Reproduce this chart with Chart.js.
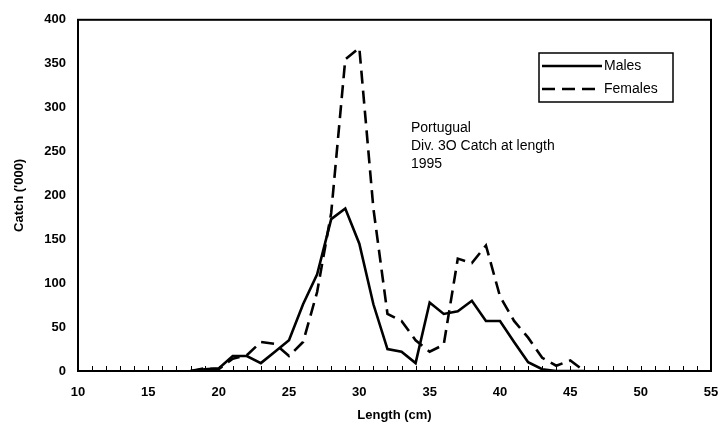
<!DOCTYPE html>
<html>
<head>
<meta charset="utf-8">
<script src="https://cdn.jsdelivr.net/npm/chart.js@4"></script>
<style>
  body { margin: 0; background: #fff; }
  #wrap { width: 722px; height: 438px; }
</style>
</head>
<body>
<div id="wrap"><canvas id="chart" width="722" height="438"></canvas></div>
<script>
// ====================== DATA ======================
const lengths = [18, 19, 20, 21, 22, 23, 24, 25, 26, 27, 28, 29, 30, 31, 32,
  33, 34, 35, 36, 37, 38, 39, 40, 41, 42, 43, 44, 45, 46];
const males = [0, 2, 3, 17, 17, 9, 22, 35, 76, 110, 173, 185, 145, 76, 25,
  22, 9, 78, 65, 68, 80, 57, 57, 33, 10, 2, 0, 0, 0];
const females = [0, 3, 2, 14, 18, 33, 31, 17, 33, 90, 180, 355, 368, 185, 65,
  57, 35, 22, 30, 128, 123, 143, 85, 57, 38, 15, 6, 12, 0];
const xTicks = [10, 15, 20, 25, 30, 35, 40, 45, 50, 55];
const yTicks = [0, 50, 100, 150, 200, 250, 300, 350, 400];
const noteLines = ['Portugual', 'Div. 3O Catch at length', '1995'];

const FONT = "'Liberation Sans', Arial, sans-serif";

function toPoints(vals) {
  return lengths.map((x, i) => ({ x: x, y: vals[i] }));
}

// ====================== EXTRAS ======================
// frame, minor ticks, legend box and the note
const extras = {
  id: 'extras',
  afterDraw(chart) {
    const { ctx, chartArea: a, scales } = chart;
    ctx.save();
    ctx.strokeStyle = '#000';

    // minor ticks every cm, pointing up from the axis
    ctx.lineWidth = 1;
    for (let v = 10; v <= 55; v++) {
      const px = Math.round(scales.x.getPixelForValue(v)) + 0.5;
      ctx.beginPath();
      ctx.moveTo(px, a.bottom);
      ctx.lineTo(px, a.bottom - 5);
      ctx.stroke();
    }

    // frame
    ctx.lineWidth = 2;
    ctx.strokeRect(a.left, a.top, a.right - a.left, a.bottom - a.top);

    // legend
    const bx = 539, by = 53, bw = 134, bh = 49;
    ctx.lineWidth = 1.5;
    ctx.fillStyle = '#fff';
    ctx.fillRect(bx, by, bw, bh);
    ctx.strokeRect(bx, by, bw, bh);
    ctx.font = '14px ' + FONT;
    ctx.fillStyle = '#000';
    ctx.textBaseline = 'middle';
    chart.data.datasets.forEach((ds, i) => {
      const ly = by + 13 + i * 23;
      ctx.lineWidth = 2.5;
      ctx.setLineDash(ds.borderDash || []);
      ctx.beginPath();
      ctx.moveTo(bx + 3, ly);
      ctx.lineTo(bx + 63, ly);
      ctx.stroke();
      ctx.setLineDash([]);
      ctx.fillText(ds.label, bx + 65, ly);
    });

    // note
    noteLines.forEach((t, i) => ctx.fillText(t, 411, 128 + i * 18));
    ctx.restore();
  }
};

// ====================== CHART ======================
new Chart(document.getElementById('chart'), {
  type: 'line',
  data: {
    datasets: [
      { label: 'Males', data: toPoints(males), borderColor: '#000', borderWidth: 2.6,
        pointRadius: 0, tension: 0, fill: false },
      { label: 'Females', data: toPoints(females), borderColor: '#000', borderWidth: 2.6,
        borderDash: [13, 7], pointRadius: 0, tension: 0, fill: false }
    ]
  },
  options: {
    responsive: false,
    animation: false,
    layout: { padding: { left: 0, top: 16, right: 11, bottom: 0 } },
    plugins: { legend: { display: false }, tooltip: { enabled: false } },
    scales: {
      x: {
        type: 'linear', min: 10, max: 55,
        afterBuildTicks: s => { s.ticks = xTicks.map(v => ({ value: v })); },
        afterFit: s => { s.height = 67; s.paddingLeft = 0; s.paddingRight = 0; },
        grid: { display: false, drawTicks: false },
        border: { display: false },
        ticks: { color: '#000', padding: 14, font: { family: FONT, size: 13, weight: 'bold' } },
        title: { display: true, text: 'Length (cm)', color: '#000', padding: { top: 0, bottom: 15 },
          font: { family: FONT, size: 13, weight: 'bold' } }
      },
      y: {
        min: 0, max: 400,
        afterBuildTicks: s => { s.ticks = yTicks.map(v => ({ value: v })); },
        afterFit: s => { s.width = 78; },
        grid: { display: false, drawTicks: false },
        border: { display: false },
        ticks: { color: '#000', padding: 12, font: { family: FONT, size: 13, weight: 'bold' } },
        title: { display: true, text: "Catch ('000)", color: '#000', padding: { top: 12, bottom: 0 },
          font: { family: FONT, size: 13, weight: 'bold' } }
      }
    }
  },
  plugins: [extras]
});
</script>
</body>
</html>
